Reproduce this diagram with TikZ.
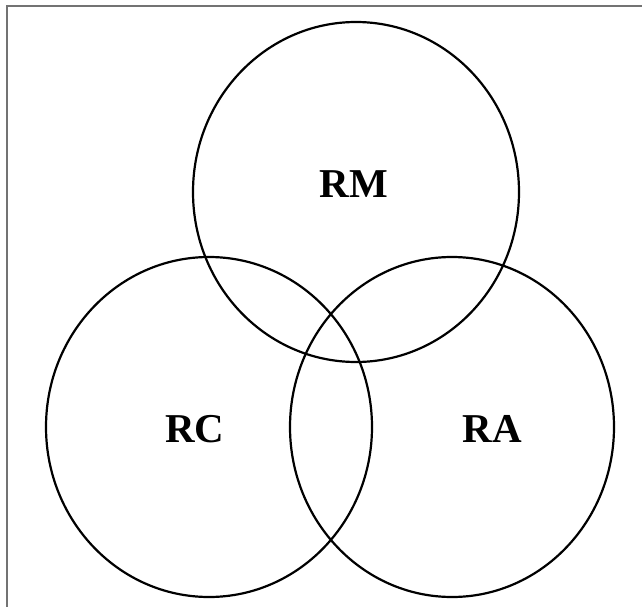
\documentclass[tikz,border=0pt]{standalone}
\usepackage{fontspec}
\setmainfont{Liberation Serif}
\begin{document}
\begin{tikzpicture}[x=1pt,y=-1pt,
  ring/.style={draw=black,line width=2.2pt},
  lbl/.style={font=\fontsize{41}{41}\selectfont\bfseries,inner sep=0pt,anchor=center},
  frame/.style={draw=black!55,line width=1.2pt}]
  \useasboundingbox (0,0) rectangle (642,607);
  % partial frame: top and left edges
  \coordinate (fl) at (7,607);
  \coordinate (ftl) at (7,6);
  \coordinate (ftr) at (642,6);
  \draw[frame] (fl) -- (ftl) -- (ftr);
  % the three sets
  \coordinate (cm) at (356,192);
  \coordinate (cc) at (209,427);
  \coordinate (ca) at (452,427);
  \draw[ring] (cm) ellipse [x radius=163, y radius=170];
  \draw[ring] (cc) ellipse [x radius=163, y radius=170];
  \draw[ring] (ca) ellipse [x radius=162, y radius=170];
  \node[lbl] (rm) at (354,184) {RM};
  \node[lbl] (rc) at (195,429) {RC};
  \node[lbl] (ra) at (492,429) {RA};
\end{tikzpicture}
\end{document}
